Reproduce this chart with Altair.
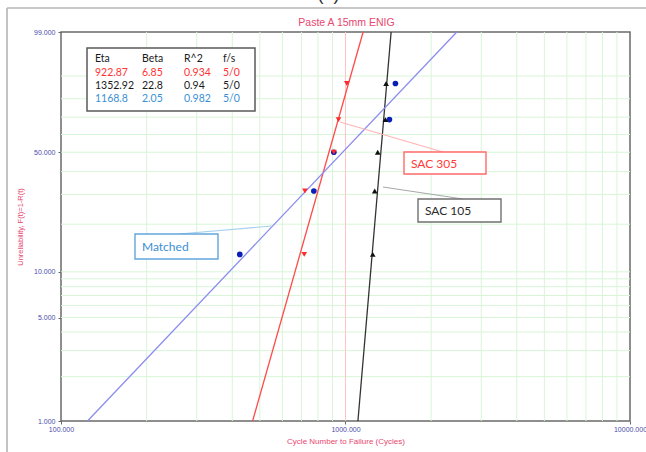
import numpy as np
import pandas as pd
import altair as alt

# Two-parameter Weibull fits of cycles to failure, Paste A 15mm ENIG
series = ["SAC 305", "SAC 105", "Matched"]
eta = [922.87, 1352.92, 1168.8]
beta = [6.85, 22.8, 2.05]
r_squared = [0.934, 0.94, 0.982]
fail_susp = ["5/0", "5/0", "5/0"]

# Median-rank unreliability (%) of the five failures in each group
median_rank = [12.94, 31.38, 50.0, 68.62, 87.06]
cycles_sac305 = [716, 720, 910, 945, 1011]
cycles_sac105 = [1247, 1267, 1298, 1381, 1389]
cycles_matched = [425, 774, 910, 1427, 1498]

# Probability-paper grid
x_ticks = [100, 1000, 10000]
x_minor = [200, 300, 400, 500, 600, 700, 800, 900,
           2000, 3000, 4000, 5000, 6000, 7000, 8000, 9000]
y_ticks = [1, 5, 10, 50, 99]
y_minor = [2, 3, 4, 5, 6, 7, 8, 9, 10, 20, 30, 40, 50, 60, 70, 80, 90]

W, H = 569, 389
LABEL_FONT = "Liberation Sans"
TEXT_FONT = "Lato"
PINK = "#e8466e"
TICK_BLUE = "#4b4bab"
GRID_GREEN = "#d8f5d8"


def weibull_y(pct):
    """Linearising Weibull ordinate ln(-ln(1-F))."""
    return np.log(-np.log(1.0 - np.asarray(pct, dtype=float) / 100.0))


y_lo, y_hi = float(weibull_y(1)), float(weibull_y(99))

x_enc = alt.X(
    "cycles:Q",
    scale=alt.Scale(type="log", domain=[100, 10000], nice=False),
    axis=alt.Axis(
        values=x_ticks,
        labelExpr="format(datum.value, '.3f')",
        grid=False, domain=False,
        tickSize=3, tickColor="#666666",
        labelFont=LABEL_FONT, labelFontSize=7, labelColor=TICK_BLUE,
        labelPadding=1, labelOverlap=False, labelFlush=False, labelBound=False,
        title="Cycle Number to Failure (Cycles)",
        titleFont=LABEL_FONT, titleFontSize=8, titleFontWeight="normal",
        titleColor=PINK, titleY=20, titleBaseline="middle",
    ),
)
y_enc = alt.Y(
    "w:Q",
    scale=alt.Scale(domain=[y_lo, y_hi], nice=False, zero=False),
    axis=alt.Axis(
        values=[float(v) for v in weibull_y(y_ticks)],
        labelExpr="format(100 * (1 - exp(-exp(datum.value))), '.3f')",
        grid=False, domain=False,
        tickSize=3, tickColor="#666666",
        labelFont=LABEL_FONT, labelFontSize=7, labelColor=TICK_BLUE,
        labelPadding=3, labelOverlap=False, labelFlush=False, labelBound=False,
        title="Unreliability, F(t)=1-R(t)",
        titleFont=LABEL_FONT, titleFontSize=7.5, titleFontWeight="normal",
        titleColor=PINK, titleX=-41, titleY=H / 2, titleAngle=-90,
        titleBaseline="middle",
    ),
)

one = pd.DataFrame({"k": [0]})
layers = []

# grid lines
layers.append(
    alt.Chart(pd.DataFrame({"cycles": x_minor}))
    .mark_rule(color=GRID_GREEN, strokeWidth=1)
    .encode(x=x_enc)
)
layers.append(
    alt.Chart(pd.DataFrame({"w": weibull_y(y_minor)}))
    .mark_rule(color=GRID_GREEN, strokeWidth=1)
    .encode(y=y_enc)
)
layers.append(
    alt.Chart(pd.DataFrame({"cycles": [1000]}))
    .mark_rule(color="#ffc4c4", strokeWidth=1)
    .encode(x=x_enc)
)

# fitted Weibull lines, evaluated from eta and beta
line_colors = {"SAC 305": "#ff4a4a", "SAC 105": "#333333", "Matched": "#8c8cf0"}
point_colors = {"SAC 305": "#ff2a2a", "SAC 105": "#111111", "Matched": "#0a1eb8"}
shapes = {"SAC 305": "triangle-down", "SAC 105": "triangle-up", "Matched": "circle"}
cycles_by = {"SAC 305": cycles_sac305, "SAC 105": cycles_sac105, "Matched": cycles_matched}

for name, e, b in zip(series, eta, beta):
    ends = np.array([1.0, 99.0])
    t = e * (-np.log(1.0 - ends / 100.0)) ** (1.0 / b)
    df = pd.DataFrame({"cycles": t, "w": weibull_y(ends)})
    layers.append(
        alt.Chart(df).mark_line(color=line_colors[name], strokeWidth=1.3)
        .encode(x=x_enc, y=y_enc)
    )

for name in ["Matched", "SAC 105", "SAC 305"]:
    df = pd.DataFrame({"cycles": cycles_by[name], "w": weibull_y(median_rank)})
    layers.append(
        alt.Chart(df)
        .mark_point(shape=shapes[name], filled=True, opacity=1,
                    color=point_colors[name], size=32)
        .encode(x=x_enc, y=y_enc)
    )

# callout boxes with leader lines
callouts = [
    # text, colour, box stroke, leader colour, box (x1, y1, x2, y2), leader (x1, y1, x2, y2)
    ("SAC 305", "#ff3a3a", "#ff6a6a", "#ffb4b4", (343, 120, 425, 142), (279, 90, 382, 120)),
    ("SAC 105", "#2a2a2a", "#707070", "#a8a8a8", (357, 167, 440, 190), (322, 155, 402, 167)),
    ("Matched", "#3a8ed4", "#62a6dc", "#a8d0ee", (74, 202, 157, 227), (118, 202, 211, 194)),
]
for text, ink, edge, lead, box, ldr in callouts:
    layers.append(
        alt.Chart(one).mark_rule(color=lead, strokeWidth=1.1)
        .encode(x=alt.value(ldr[0]), y=alt.value(ldr[1]),
                x2=alt.value(ldr[2]), y2=alt.value(ldr[3]))
    )
    layers.append(
        alt.Chart(one).mark_rect(fill="white", stroke=edge, strokeWidth=1.4)
        .encode(x=alt.value(box[0]), y=alt.value(box[1]),
                x2=alt.value(box[2]), y2=alt.value(box[3]))
    )
    layers.append(
        alt.Chart(one)
        .mark_text(align="left", baseline="middle", font=TEXT_FONT,
                   fontSize=12, color=ink)
        .encode(x=alt.value(box[0] + 7), y=alt.value((box[1] + box[3]) / 2 + 0.5),
                text=alt.value(text))
    )

# parameter table
layers.append(
    alt.Chart(one).mark_rect(fill="white", stroke="#5a5a5a", strokeWidth=1.5)
    .encode(x=alt.value(26), y=alt.value(16), x2=alt.value(194), y2=alt.value(79))
)
col_x = [34, 81, 123, 162]
row_y = [27, 40.5, 54, 67]
header = ["Eta", "Beta", "R^2", "f/s"]
row_ink = ["#ff3333", "#1a1a1a", "#3b8fd6"]
table_rows = [(header, "#1a1a1a")]
for i in range(len(series)):
    table_rows.append(
        ([str(eta[i]), str(beta[i]), str(r_squared[i]), fail_susp[i]], row_ink[i])
    )
for r, (cells, ink) in enumerate(table_rows):
    for c, cell in enumerate(cells):
        layers.append(
            alt.Chart(one)
            .mark_text(align="left", baseline="middle", font=TEXT_FONT,
                       fontSize=10.5, color=ink)
            .encode(x=alt.value(col_x[c]), y=alt.value(row_y[r]), text=alt.value(cell))
        )

# chart title, panel letter above the page edge, and surrounding frame
layers.append(
    alt.Chart(one)
    .mark_text(align="center", baseline="middle", font=LABEL_FONT,
               fontSize=10.5, color=PINK)
    .encode(x=alt.value(W / 2 + 1), y=alt.value(-9.5), text=alt.value("Paste A 15mm ENIG"))
)
layers.append(
    alt.Chart(one)
    .mark_text(align="center", baseline="alphabetic", font=LABEL_FONT,
               fontSize=18, color="#333333")
    .encode(x=alt.value(267.5), y=alt.value(-32.5), text=alt.value("(a)"))
)
layers.append(
    alt.Chart(one).mark_rule(color="#b4b4b4", strokeWidth=1.6)
    .encode(x=alt.value(-54), y=alt.value(-24), y2=alt.value(425))
)
layers.append(
    alt.Chart(one).mark_rule(color="#b4b4b4", strokeWidth=1.6)
    .encode(x=alt.value(-54), x2=alt.value(590), y=alt.value(-24))
)

chart = (
    alt.layer(*layers)
    .properties(
        width=W, height=H,
        autosize=alt.AutoSizeParams(type="none"),
        padding={"left": 61, "top": 32, "right": 16, "bottom": 31},
        background="white",
    )
    .configure_view(stroke="#6a6a6a", strokeWidth=1.5)
)

chart.save("out.html", embed_options={"renderer": "svg", "actions": False})
